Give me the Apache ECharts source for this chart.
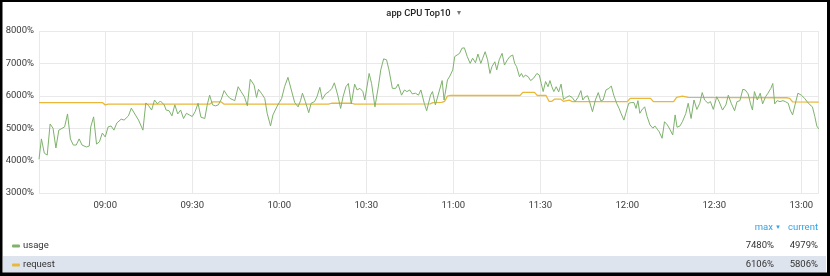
<!DOCTYPE html>
<html>
<head>
<meta charset="utf-8">
<script src="https://cdn.jsdelivr.net/npm/echarts@6/dist/echarts.min.js"></script>
<style>
html,body{margin:0;padding:0;background:#fff;}
#c{width:830px;height:276px;}
</style>
</head>
<body>
<div id="c"></div>
<script>
const titleText = 'app CPU Top10';
const dayPrefix = '2020-01-01T';
const xRange = ['08:37:10', '13:06:00'];
const yTicks = [3000, 4000, 5000, 6000, 7000, 8000];
const seriesNames = ['usage', 'request'];
const colHeaders = ['max', 'current'];

const usageTimes = ['08:37:10','08:38:00','08:39:00','08:40:00','08:41:00','08:42:00','08:43:00','08:44:00','08:46:00','08:47:00',
'08:48:00','08:49:00','08:50:00','08:51:00','08:52:00','08:53:30','08:54:30','08:55:00','08:56:00','08:57:00',
'08:58:00','08:59:00','09:00:00','09:01:00','09:02:00','09:03:00','09:04:00','09:05:30','09:06:30','09:08:00',
'09:09:00','09:10:00','09:11:30','09:12:00','09:13:00','09:14:00','09:15:00','09:16:00','09:17:00','09:18:00',
'09:19:00','09:20:20','09:21:00','09:22:00','09:23:00','09:24:00','09:25:00','09:26:00','09:27:00','09:28:00',
'09:29:00','09:30:00','09:31:00','09:32:00','09:33:00','09:34:20','09:35:10','09:36:00','09:37:00','09:38:00',
'09:39:00','09:40:00','09:41:00','09:42:00','09:43:00','09:43:40','09:44:40','09:45:50','09:46:50','09:48:00',
'09:49:00','09:50:00','09:51:20','09:52:10','09:52:50','09:53:50','09:55:00','09:55:50','09:57:00','09:57:50',
'09:59:10','10:00:00','10:00:50','10:01:50','10:03:00','10:04:10','10:05:20','10:06:30','10:07:20','10:08:00',
'10:09:00','10:10:10','10:11:00','10:12:10','10:13:00','10:14:00','10:14:50','10:16:00','10:17:10','10:18:10',
'10:19:00','10:20:10','10:21:10','10:22:00','10:23:00','10:23:50','10:24:50','10:26:00','10:26:50','10:27:50',
'10:28:50','10:29:30','10:31:00','10:31:50','10:33:00','10:34:10','10:35:00','10:36:00','10:37:00','10:37:50',
'10:39:00','10:40:10','10:41:00','10:42:10','10:43:10','10:44:00','10:45:00','10:45:50','10:47:00','10:48:00',
'10:48:50','10:50:00','10:50:50','10:52:10','10:52:50','10:53:50','10:56:10','10:56:50','10:58:00','10:58:50',
'10:59:50','11:00:30','11:01:20','11:02:10','11:03:00','11:03:50','11:04:50','11:05:50','11:06:40','11:07:40',
'11:08:30','11:09:30','11:10:10','11:11:00','11:11:50','11:12:40','11:13:20','11:14:20','11:15:00','11:15:50',
'11:16:50','11:17:40','11:18:40','11:19:30','11:20:30','11:21:10','11:21:50','11:22:50','11:23:30','11:24:10',
'11:24:50','11:25:50','11:26:40','11:27:40','11:28:50','11:29:40','11:30:20','11:31:00','11:31:50','11:32:40',
'11:33:20','11:34:00','11:34:40','11:35:30','11:36:20','11:37:10','11:38:00','11:39:00','11:40:00','11:41:00',
'11:42:00','11:43:00','11:44:00','11:44:40','11:45:30','11:46:20','11:47:00','11:48:00','11:49:00','11:50:00',
'11:50:50','11:51:40','11:52:40','11:53:40','11:54:30','11:55:20','11:56:20','11:57:10','11:57:50','11:58:50',
'11:59:30','12:00:30','12:01:20','12:02:20','12:03:00','12:03:40','12:04:20','12:05:00','12:06:00','12:06:50',
'12:07:50','12:08:50','12:09:30','12:10:20','12:11:00','12:12:00','12:12:50','12:13:50','12:14:40','12:15:40',
'12:16:30','12:17:10','12:18:10','12:19:00','12:20:10','12:21:00','12:22:00','12:23:00','12:24:00','12:25:00',
'12:25:50','12:26:40','12:27:50','12:28:40','12:29:40','12:30:50','12:31:40','12:32:50','12:34:00','12:34:50',
'12:35:50','12:37:00','12:37:50','12:38:50','12:39:50','12:40:40','12:41:40','12:42:30','12:43:10','12:43:50',
'12:44:50','12:45:50','12:46:40','12:47:40','12:48:30','12:49:30','12:50:10','12:50:50','12:51:40','12:52:40',
'12:53:40','12:54:30','12:55:30','12:56:10','12:57:00','12:57:50','12:58:50','13:00:00','13:01:10','13:02:00',
'13:03:00','13:03:50','13:04:40','13:05:20','13:06:00'];

const usageValues = [4040,4670,4230,4170,5130,5000,4390,4940,5040,5440,
4670,4480,4480,4670,4480,4420,4450,5040,5350,4510,
4580,4850,4730,5040,5070,4940,5160,5280,5250,5380,
5620,5470,5250,5220,4940,5780,5690,5560,5870,5750,
5840,5720,5560,5540,5380,5720,5440,5560,5300,5460,
5410,5360,5510,5770,5340,5300,5720,6020,5720,5690,
5720,5890,6160,6020,5920,5970,5850,6280,6130,5970,
5690,6510,6330,5950,6200,6080,5920,5460,5070,5410,
5660,5790,5920,6280,6570,6180,5790,5660,5850,6080,
5820,5480,5770,5820,5970,6260,5890,6060,6130,6230,
6400,6020,5610,5970,6280,6380,5750,6360,6180,6230,
6130,5870,6690,6380,5660,6280,6800,7140,7110,6800,
6230,6230,6360,6020,6180,6130,6180,6060,6080,6020,
6180,5770,5540,6020,6130,5720,6470,5870,6490,6610,
6800,7210,7260,7310,7470,7480,7210,7000,7160,7020,
7290,7000,7160,7360,7110,6690,6900,7050,6800,7110,
7310,6950,7110,7210,7260,7000,6900,6590,6690,6570,
6640,6590,6470,6540,6690,6640,6380,6130,6440,6280,
6470,6280,6130,6280,6120,6360,5890,5950,6000,5950,
5820,5950,6160,5870,5970,6000,5820,5510,5870,6100,
5850,5870,6180,6230,6300,6020,5770,5610,5460,5250,
5460,5770,5790,5790,5610,5850,5460,5560,5660,5360,
5100,5000,5070,4970,4890,4690,5200,5100,4970,4790,
5410,5030,5070,5200,5450,5770,5300,5870,5580,5770,
6100,5870,5770,5820,5580,5970,5820,5560,5720,6020,
5770,5540,5820,5850,6200,6180,6060,5750,5560,6130,
5870,6080,5750,5970,6080,6230,6380,5750,5850,5820,
5850,5820,5770,5560,5410,5720,6080,6020,5920,5820,
5720,5660,5360,5070,4979];

const requestTimes = ['08:37:10','08:59:00','09:00:00','09:01:00','09:36:00','09:37:00','09:40:00','09:41:00',
'10:17:00','10:18:00','10:25:00','10:26:00','10:52:00','10:53:00','10:56:00','10:57:00','10:58:00','10:59:00',
'11:23:00','11:24:00','11:28:00','11:29:00','11:32:00','11:33:00','11:34:00','11:35:00','11:37:00','11:38:00',
'11:40:00','11:41:00','12:00:00','12:01:00','12:08:00','12:09:00','12:16:00','12:17:00','12:19:00','12:21:00',
'12:55:00','12:56:00','12:57:00','13:06:00'];
const requestValues = [5790,5790,5720,5740,5740,5810,5810,5740,
5740,5770,5770,5740,5750,5790,5800,5830,5990,6010,
6010,6106,6106,6010,6010,5830,5830,5900,5900,5830,
5870,5820,5820,5920,5920,5820,5820,5950,5990,5950,
5940,5920,5810,5806];

const colors = ['#7EB26D', '#EAB839'];
const toTs = s => new Date(dayPrefix + s).getTime();
const pairs = (ts, vs) => ts.map((t, i) => [toTs(t), vs[i]]);
const stats = vs => [Math.max.apply(null, vs), vs[vs.length - 1]];
const allStats = [stats(usageValues), stats(requestValues)];
const FONT = 'Roboto, "DejaVu Sans", sans-serif';

const chart = echarts.init(document.getElementById('c'), null, {renderer: 'canvas'});

const graphics = [
  {type: 'rect', shape: {x: 3, y: 256, width: 823, height: 17}, style: {fill: '#dee4ed'}, z: -1},
  {type: 'text', x: 418.5, y: 13.5, style: {text: titleText, font: '500 9.3px ' + FONT, fill: '#222', align: 'center', verticalAlign: 'middle'}},
  {type: 'text', x: 459, y: 13, style: {text: '▾', font: '8px ' + FONT, fill: '#777', align: 'center', verticalAlign: 'middle'}},
  {type: 'text', x: 773, y: 228, style: {text: colHeaders[0], font: '9.5px ' + FONT, fill: '#33a2e5', align: 'right', verticalAlign: 'middle'}},
  {type: 'text', x: 778, y: 227.5, style: {text: '▾', font: '7px ' + FONT, fill: '#33a2e5', align: 'center', verticalAlign: 'middle'}},
  {type: 'text', x: 818, y: 228, style: {text: colHeaders[1], font: '9.5px ' + FONT, fill: '#33a2e5', align: 'right', verticalAlign: 'middle'}}
];
const rowsY = [246, 265];
seriesNames.forEach((n, i) => {
  graphics.push({type: 'rect', shape: {x: 12, y: rowsY[i] - 1.5, width: 8, height: 3, r: 1}, style: {fill: colors[i]}});
  graphics.push({type: 'text', x: 23, y: rowsY[i], style: {text: n, font: '9.5px ' + FONT, fill: '#333', align: 'left', verticalAlign: 'middle'}});
  graphics.push({type: 'text', x: 774, y: rowsY[i], style: {text: allStats[i][0] + '%', font: '9.5px ' + FONT, fill: '#333', align: 'right', verticalAlign: 'middle'}});
  graphics.push({type: 'text', x: 818, y: rowsY[i], style: {text: allStats[i][1] + '%', font: '9.5px ' + FONT, fill: '#333', align: 'right', verticalAlign: 'middle'}});
});
// frame
graphics.push({type: 'rect', shape: {x: 0, y: 0, width: 830, height: 2}, style: {fill: '#000'}, z: 10});
graphics.push({type: 'rect', shape: {x: 0, y: 0, width: 2.5, height: 276}, style: {fill: '#000'}, z: 10});
graphics.push({type: 'rect', shape: {x: 827, y: 0, width: 3, height: 276}, style: {fill: '#000'}, z: 10});
graphics.push({type: 'rect', shape: {x: 0, y: 272.5, width: 830, height: 3.5}, style: {fill: '#000'}, z: 10});

chart.setOption({
  animation: false,
  backgroundColor: '#fff',
  textStyle: {fontFamily: FONT},
  grid: {left: 39, right: 11.3, top: 31, bottom: 83, containLabel: false},
  xAxis: {
    type: 'time',
    min: toTs(xRange[0]),
    max: toTs(xRange[1]),
    splitNumber: 8,
    axisLine: {show: false},
    axisTick: {show: false},
    splitLine: {show: true, lineStyle: {color: '#e9e9e9', width: 1}},
    axisLabel: {formatter: '{HH}:{mm}', color: '#3a3a3a', fontSize: 9.5, margin: 8, showMinLabel: false, showMaxLabel: false, fontWeight: 'normal'}
  },
  yAxis: {
    type: 'value',
    min: yTicks[0],
    max: yTicks[yTicks.length - 1],
    interval: 1000,
    axisLine: {show: false},
    axisTick: {show: false},
    splitLine: {show: true, lineStyle: {color: '#e9e9e9', width: 1}},
    axisLabel: {formatter: v => v + '%', color: '#3a3a3a', fontSize: 9.5, margin: 5}
  },
  series: [
    {name: seriesNames[0], type: 'line', data: pairs(usageTimes, usageValues), showSymbol: false, symbol: 'none',
     lineStyle: {color: colors[0], width: 1}, itemStyle: {color: colors[0]}, z: 3},
    {name: seriesNames[1], type: 'line', data: pairs(requestTimes, requestValues), showSymbol: false, symbol: 'none',
     lineStyle: {color: colors[1], width: 1.3}, itemStyle: {color: colors[1]}, z: 2}
  ],
  graphic: graphics
});
</script>
</body>
</html>
